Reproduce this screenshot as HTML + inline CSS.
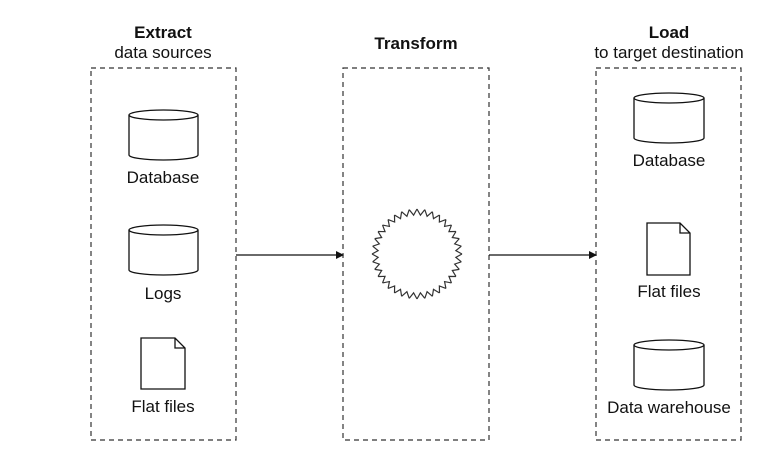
<!DOCTYPE html>
<html><head><style>body{margin:0;background:#fff}svg{display:block}</style></head><body>
<svg width="772" height="462" viewBox="0 0 772 462" xmlns="http://www.w3.org/2000/svg" xmlns:xlink="http://www.w3.org/1999/xlink" font-family="Liberation Sans, sans-serif" font-size="17" fill="none" stroke="#111">
<defs>
<path id="z" d="M45 0 L38.85 3.4 L44.32 7.81" stroke="#333" stroke-width="1.2" fill="none"/>
</defs>
<g stroke-dasharray="5,4" stroke-width="1.2" stroke="#333">
<rect x="91" y="68" width="145" height="372"/>
<rect x="343" y="68" width="146" height="372"/>
<rect x="596" y="68" width="145" height="372"/>
</g>
<g fill="#111" stroke="none" text-anchor="middle">
<text x="163" y="38" font-weight="bold">Extract</text>
<text x="163" y="58">data sources</text>
<text x="416" y="49" font-weight="bold">Transform</text>
<text x="669" y="38" font-weight="bold">Load</text>
<text x="669" y="58">to target destination</text>
<text x="163" y="183">Database</text>
<text x="163" y="299">Logs</text>
<text x="163" y="412">Flat files</text>
<text x="669" y="166">Database</text>
<text x="669" y="297">Flat files</text>
<text x="669" y="413">Data warehouse</text>
</g>
<g stroke-width="1.3">
<path d="M129 115 v40 a34.5 5 0 0 0 69 0 v-40"/><ellipse cx="163.5" cy="115" rx="34.5" ry="5"/>
<path d="M129 230 v40 a34.5 5 0 0 0 69 0 v-40"/><ellipse cx="163.5" cy="230" rx="34.5" ry="5"/>
<path d="M634 98 v40 a35 5 0 0 0 70 0 v-40"/><ellipse cx="669" cy="98" rx="35" ry="5"/>
<path d="M634 345 v40 a35 5 0 0 0 70 0 v-40"/><ellipse cx="669" cy="345" rx="35" ry="5"/>
<path d="M141 338 h34 l10 10 v41 h-44 z M175 338 v10 h10"/>
<path d="M647 223 h33 l10 10 v42 h-43 z M680 223 v10 h10"/>
<path d="M236 255 H336"/><path d="M489 255 H589"/>
</g>
<path d="M336 251 L344 255 L336 259 z M589 251 L597 255 L589 259 z" fill="#111" stroke="none"/>
<g transform="translate(417,254)">
<use xlink:href="#z" transform="rotate(0)"/><use xlink:href="#z" transform="rotate(10)"/><use xlink:href="#z" transform="rotate(20)"/><use xlink:href="#z" transform="rotate(30)"/><use xlink:href="#z" transform="rotate(40)"/><use xlink:href="#z" transform="rotate(50)"/><use xlink:href="#z" transform="rotate(60)"/><use xlink:href="#z" transform="rotate(70)"/><use xlink:href="#z" transform="rotate(80)"/><use xlink:href="#z" transform="rotate(90)"/><use xlink:href="#z" transform="rotate(100)"/><use xlink:href="#z" transform="rotate(110)"/><use xlink:href="#z" transform="rotate(120)"/><use xlink:href="#z" transform="rotate(130)"/><use xlink:href="#z" transform="rotate(140)"/><use xlink:href="#z" transform="rotate(150)"/><use xlink:href="#z" transform="rotate(160)"/><use xlink:href="#z" transform="rotate(170)"/><use xlink:href="#z" transform="rotate(180)"/><use xlink:href="#z" transform="rotate(190)"/><use xlink:href="#z" transform="rotate(200)"/><use xlink:href="#z" transform="rotate(210)"/><use xlink:href="#z" transform="rotate(220)"/><use xlink:href="#z" transform="rotate(230)"/><use xlink:href="#z" transform="rotate(240)"/><use xlink:href="#z" transform="rotate(250)"/><use xlink:href="#z" transform="rotate(260)"/><use xlink:href="#z" transform="rotate(270)"/><use xlink:href="#z" transform="rotate(280)"/><use xlink:href="#z" transform="rotate(290)"/><use xlink:href="#z" transform="rotate(300)"/><use xlink:href="#z" transform="rotate(310)"/><use xlink:href="#z" transform="rotate(320)"/><use xlink:href="#z" transform="rotate(330)"/><use xlink:href="#z" transform="rotate(340)"/><use xlink:href="#z" transform="rotate(350)"/>
</g>
</svg>
</body></html>
